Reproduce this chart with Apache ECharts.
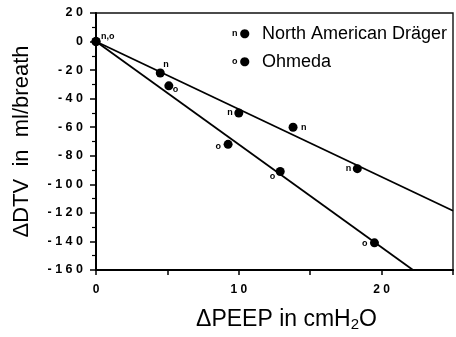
<!DOCTYPE html>
<html>
<head>
<meta charset="utf-8">
<script src="https://cdn.jsdelivr.net/npm/echarts@6/dist/echarts.min.js"></script>
<style>
  html, body { margin: 0; padding: 0; background: #fff; }
  #chart { width: 456px; height: 337px; }
</style>
</head>
<body>
<div id="chart"></div>
<script>
// measured points (ΔPEEP, ΔDTV)
const nX = [0, 4.5, 10, 13.8, 18.3];
const nY = [0, -22, -50, -60, -89];
const nTags = ["n,o", "n", "n", "n", "n"];

const oX = [0, 5.1, 9.25, 12.9, 19.5];
const oY = [0, -31, -72, -91, -141];
const oTags = ["", "o", "o", "o", "o"];

// regression lines, end points
const nFitX = [0, 25];
const nFitY = [0, -118.5];
const oFitX = [0, 22.2];
const oFitY = [0, -160];

const xTicks = [0, 10, 20];
const seriesNames = ["North American Dräger", "Ohmeda"];
const legendTags = ["n", "o"];

// label placement per point (style only): dx, dy, align
const nLabelPos = [[5, -5, "left"], [3, -8, "left"], [-6, 0, "right"], [8, 0, "left"], [-6, 0, "right"]];
const oLabelPos = [[0, 0, "left"], [4, 4, "left"], [-7, 2, "right"], [-5, 5, "right"], [-7, 1, "right"]];

const font = "'Liberation Sans', Arial, Helvetica, sans-serif";
const spaced = (v) => String(v).split("").join(" ");

function pts(xs, ys, tags, pos) {
  return xs.map((x, i) => ({
    value: [x, ys[i]],
    label: {
      show: tags[i] !== "",
      formatter: tags[i],
      position: "inside",
      offset: [pos[i][0], pos[i][1]],
      align: pos[i][2],
    },
  }));
}

const chart = echarts.init(document.getElementById("chart"));

chart.setOption({
  animation: false,
  backgroundColor: "#fff",
  grid: {
    left: 96, right: 1, top: 13, bottom: 67,
    show: true, borderColor: "#111", borderWidth: 1.4,
  },
  legend: {
    orient: "vertical",
    left: 222,
    top: 20,
    icon: "none",
    itemWidth: 0,
    itemGap: 10,
    data: seriesNames,
    formatter: (name) => {
      const i = seriesNames.indexOf(name);
      return "{l|" + legendTags[i] + "}{d|\u25CF}{t|" + name + "}";
    },
    textStyle: {
      color: "#000",
      fontFamily: font,
      fontSize: 18,
      rich: {
        l: { fontSize: 9, fontWeight: "bold", fontFamily: font, padding: [0, 2, 0, 0] },
        d: { fontSize: 12, fontFamily: "DejaVu Sans" },
        t: { fontSize: 18, fontFamily: font, padding: [0, 0, 0, 12] },
      },
    },
  },
  xAxis: {
    type: "value",
    min: 0,
    max: 25,
    interval: 5,
    name: "{a|ΔPEEP in cmH}{s|2}{a|O}",
    nameLocation: "middle",
    nameGap: 38,
    nameTextStyle: {
      padding: [0, 0, 0, 24],
      rich: {
        a: { fontSize: 23, fontFamily: font, color: "#000" },
        s: { fontSize: 15, fontFamily: font, color: "#000", padding: [9, 0, 0, 0] },
      },
    },
    axisLine: { show: true, onZero: false, lineStyle: { color: "#000", width: 2 } },
    axisTick: { show: true, length: 5, lineStyle: { color: "#000", width: 1.5 } },
    axisLabel: {
      margin: 14,
      color: "#000",
      fontSize: 12,
      fontWeight: "bold",
      fontFamily: font,
      formatter: (v) => (xTicks.includes(v) ? spaced(v) : ""),
    },
    splitLine: { show: false },
  },
  yAxis: {
    type: "value",
    min: -160,
    max: 20,
    interval: 20,
    name: "ΔDTV  in  ml/breath",
    nameLocation: "middle",
    nameGap: 63,
    nameTextStyle: { fontSize: 22, fontFamily: font, color: "#000" },
    axisLine: { show: true, onZero: false, lineStyle: { color: "#000", width: 2 } },
    axisTick: { show: true, length: 6, lineStyle: { color: "#000", width: 1.5 } },
    minorTick: { show: true, splitNumber: 2, length: 4, lineStyle: { color: "#000", width: 1.2 } },
    axisLabel: {
      margin: 13,
      color: "#000",
      fontSize: 12.5,
      fontWeight: "bold",
      fontFamily: font,
      formatter: spaced,
    },
    splitLine: { show: false },
  },
  series: [
    {
      name: seriesNames[0],
      type: "scatter",
      symbol: "circle",
      symbolSize: 9,
      itemStyle: { color: "#000", opacity: 1 },
      label: { color: "#000", fontSize: 9, fontWeight: "bold", fontFamily: font },
      data: pts(nX, nY, nTags, nLabelPos),
      z: 5,
    },
    {
      name: seriesNames[1],
      type: "scatter",
      symbol: "circle",
      symbolSize: 9,
      itemStyle: { color: "#000", opacity: 1 },
      label: { color: "#000", fontSize: 9, fontWeight: "bold", fontFamily: font },
      data: pts(oX, oY, oTags, oLabelPos),
      z: 5,
    },
    {
      type: "line",
      showSymbol: false,
      silent: true,
      lineStyle: { color: "#000", width: 1.8 },
      data: nFitX.map((x, i) => [x, nFitY[i]]),
    },
    {
      type: "line",
      showSymbol: false,
      silent: true,
      lineStyle: { color: "#000", width: 1.8 },
      data: oFitX.map((x, i) => [x, oFitY[i]]),
    },
  ],
});
</script>
</body>
</html>
